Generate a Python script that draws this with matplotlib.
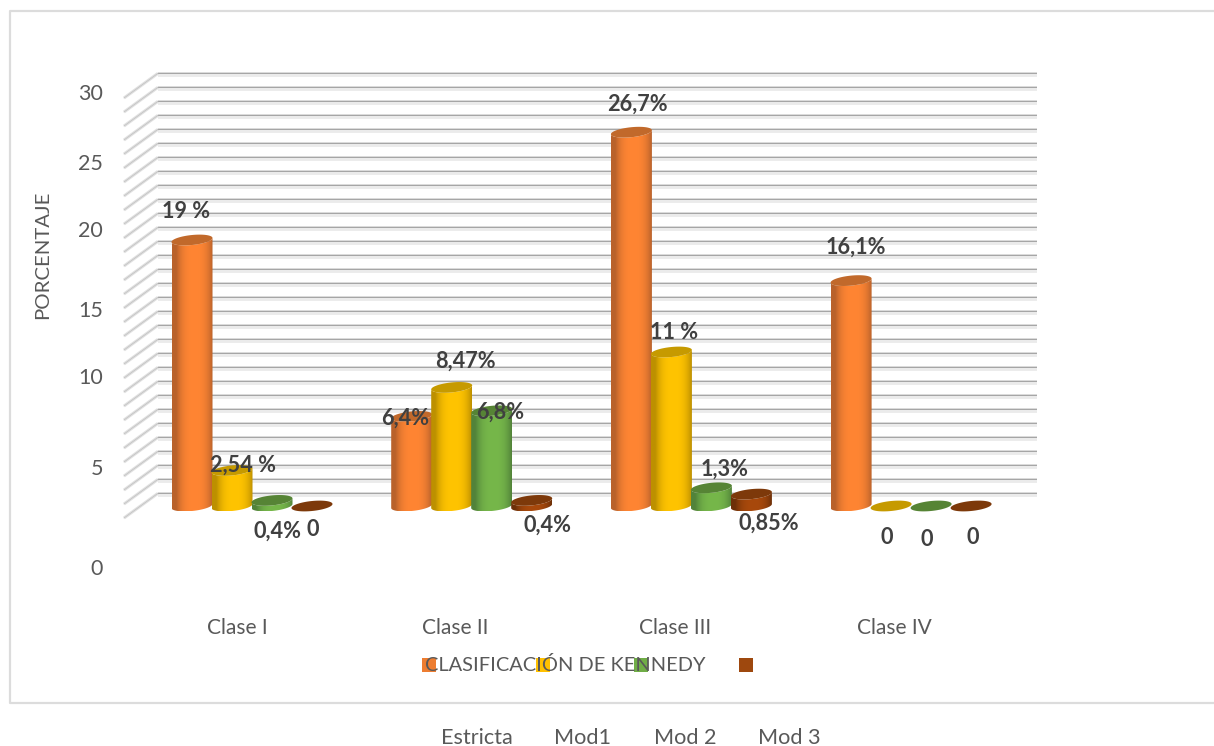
import numpy as np
import matplotlib
matplotlib.use("Agg")
import matplotlib.pyplot as plt
from matplotlib.patches import PathPatch, Polygon, Rectangle
from matplotlib.path import Path
from matplotlib.colors import to_rgb

# Data
categories = ["Clase I", "Clase II", "Clase III", "Clase IV"]
series_names = ["Estricta", "Mod1", "Mod 2", "Mod 3"]
estricta = [19, 6.4, 26.7, 16.1]
mod1 = [2.54, 8.47, 11, 0]
mod2 = [0.4, 6.8, 1.3, 0]
mod3 = [0, 0.4, 0.85, 0]
estricta_labels = ["19 %", "6,4%", "26,7%", "16,1%"]
mod1_labels = ["2,54 %", "8,47%", "11 %", "0"]
mod2_labels = ["0,4%", "6,8%", "1,3%", "0"]
mod3_labels = ["0", "0,4%", "0,85%", "0"]
y_tick_labels = ["0", "5", "10", "15", "20", "25", "30"]

# Layout, in pixels of the 1214x746 canvas
W, H = 1214, 746
X0, X_STEP = 192, 219.7      # first bar centre, spacing between classes
Y0, Y_UNIT = 506.0, 14.0     # baseline of the bars, pixels per percentage point
BAR_W, BAR_GAP = 41, 40
DEPTH = 12                   # rise from bar plane to the back wall
WALL_L, WALL_R = 158, 1037
FRONT_L = 124

y_tick_px = [569, 469, 378, 311, 231, 164, 94]
x_label_px = [237, 455, 675, 894]
legend_x_px = [422, 536, 634, 739]
name_x_px = [477, 583, 685, 789]
label_px = [
    [(186, 212), (405, 418), (637, 104), (856, 247)],
    [(243, 465), (465, 361), (674, 332), (887, 538)],
    [(278, 531), (500, 412), (725, 469), (927, 539)],
    [(313, 530), (547, 525), (769, 523), (973, 537)],
]
side_col = ["#ff8533", "#ffc400", "#76b74a", "#a8490c"]
edge_col = ["#b9622b", "#bd9000", "#52833a", "#6d3008"]
top_col = ["#c1692b", "#c69a00", "#568435", "#7d390a"]

FONT = "Lato"
TXT = "#595959"
LBL = "#404040"

fig = plt.figure(figsize=(W / 100, H / 100), dpi=100, facecolor="white")
ax = fig.add_axes([0, 0, 1, 1])
ax.set_xlim(-X0 / X_STEP, (W - X0) / X_STEP)
ax.set_ylim((Y0 - H) / Y_UNIT, Y0 / Y_UNIT)
ax.axis("off")

dx = 1 / X_STEP   # category units per pixel
dy = 1 / Y_UNIT   # value units per pixel


def fx(px):
    return px / W


def fy(py):
    return 1 - py / H


# Chart frame, open on the right
frame_x = [1.0, 10 / W, 10 / W, 1.0]
frame_y = [fy(11), fy(11), fy(703), fy(703)]
fig.add_artist(plt.Line2D(frame_x, frame_y, color="#dcdcdc", lw=1.6))

# Back wall gridlines and the slanted side wall, one per percentage point
left = (WALL_L - X0) * dx
right = (WALL_R - X0) * dx
front = (FRONT_L - X0) * dx
for v in range(0, 31):
    back = v + DEPTH * dy + 0.05
    ax.plot([left, right], [back - 1.8 * dy] * 2, color="#ebebeb", lw=2.6,
            solid_capstyle="butt", zorder=1, snap=False)
    ax.plot([left, right], [back, back], color="#a6a6a6", lw=1.0,
            solid_capstyle="butt", zorder=1.1, snap=False)
    ax.plot([front, left], [v - DEPTH * dy, back], color="#e0e0e0", lw=2.2,
            solid_capstyle="butt", zorder=1)
    ax.plot([front, left], [v - DEPTH * dy, back], color="#c0c0c0", lw=0.5,
            zorder=1.1)


def ellipse_xy(cx, cy, t):
    half = BAR_W / 2
    xs = cx + half * np.cos(t) * dx
    ys = cy + (5.0 * np.sin(t) + 2.0 * np.cos(t)) * dy
    return xs, ys


def cylinder(cx, value, idx, z):
    t_low = np.linspace(np.pi, 2 * np.pi, 40)
    t_top = np.linspace(0, 2 * np.pi, 80)
    bx, by = ellipse_xy(cx, 0, t_low)
    tx, ty = ellipse_xy(cx, value, t_low[::-1])
    verts = np.vstack([np.column_stack([bx, by]),
                       np.column_stack([tx, ty]),
                       [[bx[0], by[0]]]])
    if value > 0:
        clip = PathPatch(Path(verts), transform=ax.transData, fc="none", ec="none")
        ax.add_patch(clip)
        n = 64
        u = np.linspace(0, 1, n)
        mix = np.clip(np.abs(u - 0.55) / 0.45, 0, 1)[None, :, None] ** 2.8
        light = np.array(to_rgb(side_col[idx]))[None, None, :]
        dark = np.array(to_rgb(edge_col[idx]))[None, None, :]
        grad = light * (1 - mix) + dark * mix
        half = BAR_W / 2 * dx
        im = ax.imshow(grad, extent=[cx - half, cx + half, by.min(), ty.max()],
                       aspect="auto", zorder=z, interpolation="bilinear")
        im.set_clip_path(clip)
    ex, ey = ellipse_xy(cx, value, t_top)
    ax.add_patch(Polygon(np.column_stack([ex, ey]), closed=True,
                         fc=top_col[idx], ec="none", zorder=z + 0.01))


values = [estricta, mod1, mod2, mod3]
labels = [estricta_labels, mod1_labels, mod2_labels, mod3_labels]
z = 2
for c in range(len(categories)):
    for s, series in enumerate(values):
        cylinder(c + s * BAR_GAP * dx, series[c], s, z)
        z += 0.1

# Restore the limits changed by imshow
ax.set_xlim(-X0 / X_STEP, (W - X0) / X_STEP)
ax.set_ylim((Y0 - H) / Y_UNIT, Y0 / Y_UNIT)

# Value labels
for s, row in enumerate(labels):
    for c, text in enumerate(row):
        px, py = label_px[s][c]
        fig.text(fx(px), fy(py), text, ha="center", va="center", color=LBL,
                 fontsize=15.6, fontweight="bold", family=FONT, zorder=20)

# Axis labels
for text, py in zip(y_tick_labels, y_tick_px):
    fig.text(fx(103), fy(py), text, ha="right", va="center", color=TXT,
             fontsize=15.5, family=FONT)
fig.text(fx(43), fy(255), "PORCENTAJE", rotation=90, ha="center", va="center",
         color=TXT, fontsize=14.7, family=FONT)
for text, px in zip(categories, x_label_px):
    fig.text(fx(px), fy(628), text, ha="center", va="center", color=TXT,
             fontsize=15, family=FONT)

# Legend swatches with the axis title printed across them
for px, col in zip(legend_x_px, ["#ed7d31", "#ffc000", "#70ad47", "#9e480e"]):
    fig.add_artist(Rectangle((fx(px), fy(672)), 14 / W, 14 / H, color=col,
                             transform=fig.transFigure, lw=0))
fig.text(fx(565), fy(665), "CLASIFICACIÓN DE KENNEDY", ha="center", va="center",
         color=TXT, fontsize=14.4, family=FONT, zorder=20)

# Series names below the frame
for text, px in zip(series_names, name_x_px):
    fig.text(fx(px), fy(738), text, ha="center", va="center", color=TXT,
             fontsize=15.6, family=FONT)

fig.savefig("out.png", dpi=100, facecolor="white")
